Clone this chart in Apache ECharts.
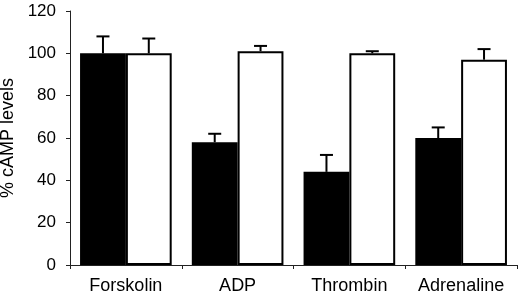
<!DOCTYPE html>
<html>
<head>
    <meta http-equiv="Content-Type" content="text/html; charset=utf-8" />
    <title>cAMP levels</title>
    <style type="text/css">
        * { margin: 0; padding: 0 }
        html, body { width: 100%; height: 100%; background: #fff; }
        #chart { width: 520px; height: 301px; }
    </style>
    <script src="https://cdn.jsdelivr.net/npm/echarts@6/dist/echarts.min.js"></script>
</head>
<body>
    <div id="chart"></div>
    <script>
        const categories = ['Forskolin', 'ADP', 'Thrombin', 'Adrenaline'];
        const blackValues = [100, 58, 44, 60];
        const blackErrors = [8, 4, 8, 5];
        const whiteValues = [100, 101, 100, 97];
        const whiteErrors = [7, 2.5, 1, 5];
        const yTicks = [0, 20, 40, 60, 80, 100, 120];

        const font = 'Liberation Sans, Arial, sans-serif';
        const catGap = 0.18;
        // half of one bar's width, as a fraction of the band
        const shift = (1 - catGap) / 4;

        const errorSeries = (values, errors, side) => ({
            type: 'custom',
            z: 1,
            data: values.map((v, i) => [i, v, v + errors[i]]),
            renderItem: (params, api) => {
                const band = api.size([1, 0])[0];
                const base = api.coord([api.value(0), api.value(1)]);
                const top = api.coord([api.value(0), api.value(2)]);
                const x = base[0] + side * shift * band;
                const style = { stroke: '#000', lineWidth: 2 };
                return {
                    type: 'group',
                    children: [
                        { type: 'line', shape: { x1: x, y1: base[1], x2: x, y2: top[1] }, style },
                        { type: 'line', shape: { x1: x - 6.5, y1: top[1], x2: x + 6.5, y2: top[1] }, style }
                    ]
                };
            }
        });

        const chart = echarts.init(document.getElementById('chart'));
        chart.setOption({
            animation: false,
            backgroundColor: '#fff',
            grid: { left: 70, right: 3, top: 11, bottom: 36, outerBoundsMode: 'none', containLabel: false },
            xAxis: {
                type: 'category',
                data: categories,
                axisLine: { lineStyle: { color: '#222', width: 1 } },
                axisTick: { show: true, length: 4, lineStyle: { color: '#222' } },
                axisLabel: { color: '#000', fontSize: 18, fontFamily: font, margin: 12, interval: 0 },
                splitLine: { show: false }
            },
            yAxis: {
                type: 'value',
                min: yTicks[0],
                max: yTicks[yTicks.length - 1],
                interval: 20,
                name: '% cAMP levels',
                nameLocation: 'middle',
                nameGap: 44,
                nameTextStyle: { color: '#000', fontSize: 18, fontFamily: font },
                axisLine: { show: true, lineStyle: { color: '#222', width: 1 } },
                axisTick: { show: true, length: 4, lineStyle: { color: '#222' } },
                axisLabel: { color: '#000', fontSize: 17, fontFamily: font, margin: 14 },
                splitLine: { show: false }
            },
            series: [
                {
                    type: 'bar',
                    data: blackValues,
                    barGap: '0%',
                    barCategoryGap: (catGap * 100) + '%',
                    itemStyle: { color: '#000', borderColor: '#000', borderWidth: 2 },
                    z: 2
                },
                {
                    type: 'bar',
                    data: whiteValues,
                    barGap: '0%',
                    barCategoryGap: (catGap * 100) + '%',
                    itemStyle: { color: '#fff', borderColor: '#000', borderWidth: 2 },
                    z: 2
                },
                errorSeries(blackValues, blackErrors, -1),
                errorSeries(whiteValues, whiteErrors, 1)
            ]
        });
    </script>
</body>
</html>
